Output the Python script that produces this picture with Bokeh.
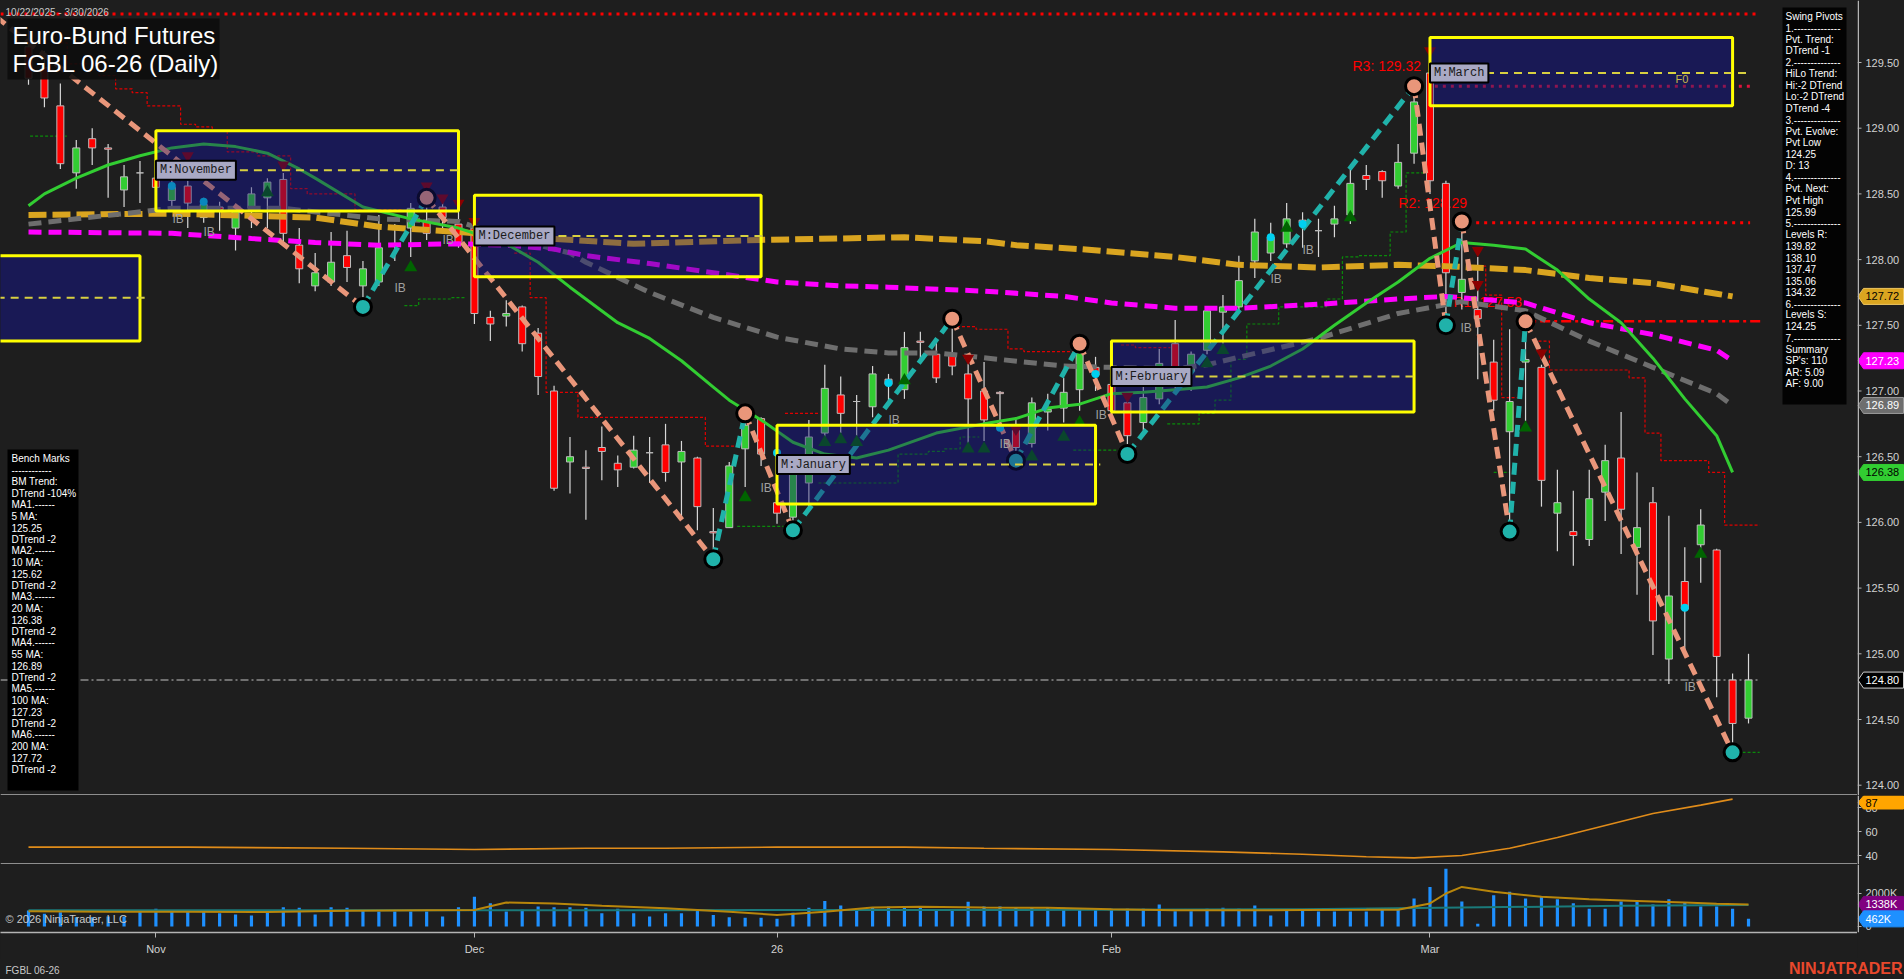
from bokeh.plotting import figure
from bokeh.models import Range1d, FixedTicker, Span
from bokeh.layouts import column, row
from bokeh.embed import file_html
from bokeh.resources import INLINE
from bokeh.core.properties import value

# ---------------------------------------------------------------- DATA
date_range_text = "10/22/2025 - 3/30/2026"
title_lines = ["Euro-Bund Futures", "FGBL 06-26 (Daily)"]
footer_left = "FGBL 06-26"
footer_right = "NINJATRADER"
month_tick_idx = [8, 28, 47, 68, 88]
month_tick_labels = ["Nov", "Dec", "26", "Feb", "Mar"]
price_ticks = [124.0, 124.5, 125.0, 125.5, 126.0, 126.5, 127.0, 127.5, 128.0, 128.5, 129.0, 129.5]
ind_ticks = [40, 60, 80]
vol_ticks = [0, 2000]
vol_tick_labels = ["0", "2000K"]

opens = [129.62,129.46,129.17,128.66,128.92,128.85,128.53,128.66,128.62,128.45,
         128.56,128.32,128.40,128.24,128.39,128.47,128.61,128.11,127.80,127.83,
         128.03,127.80,127.83,128.11,128.24,128.30,128.40,128.27,128.24,127.56,
         127.57,127.64,127.44,127.00,126.46,126.42,126.57,126.45,126.42,126.53,
         126.59,126.46,126.49,125.93,125.96,126.56,126.79,126.15,126.04,126.30,
         126.68,126.97,126.92,126.88,127.09,127.01,127.38,127.28,127.27,127.13,
         127.00,126.99,126.70,126.60,126.84,126.87,127.01,127.18,127.05,126.91,
         126.76,126.94,127.36,127.15,127.31,127.60,127.64,127.99,128.05,128.12,
         128.30,128.22,128.27,128.34,128.64,128.67,128.56,128.81,129.42,128.58,
         127.75,127.62,127.22,126.69,127.22,127.18,126.07,125.93,125.87,126.23,
         126.49,125.81,126.15,124.96,125.55,125.83,125.79,124.80,124.51]
highs = [129.75,129.59,129.34,128.91,129.00,128.88,128.72,128.75,128.70,128.62,
         128.60,128.47,128.44,128.41,128.55,128.62,128.66,128.24,128.05,128.21,
         128.22,127.99,128.34,128.27,128.43,128.47,128.45,128.40,128.33,127.61,
         127.69,127.65,127.48,127.04,126.65,126.55,126.73,126.51,126.66,126.65,
         126.75,126.62,126.50,126.11,126.46,126.83,126.80,126.22,126.42,126.78,
         127.20,127.11,126.97,127.19,127.13,127.45,127.45,127.38,127.55,127.21,
         127.22,127.00,126.80,126.95,126.98,127.10,127.36,127.26,127.12,126.95,
         127.08,127.32,127.54,127.30,127.62,127.73,128.03,128.31,128.28,128.43,
         128.36,128.31,128.41,128.69,128.72,128.68,128.88,129.32,129.45,128.60,
         128.29,128.02,127.39,127.47,127.53,127.20,126.40,126.24,126.40,126.59,
         126.84,126.38,126.27,126.05,125.81,126.10,125.80,124.85,125.00]
lows = [129.33,129.16,128.69,128.54,128.72,128.47,128.40,128.43,128.42,128.40,
        128.24,128.28,128.22,128.07,128.24,128.24,128.13,127.82,127.76,127.80,
        127.83,127.64,127.80,127.99,128.02,128.15,128.20,128.09,127.51,127.38,
        127.49,127.30,126.97,126.24,126.22,126.02,126.32,126.27,126.41,126.30,
        126.31,126.04,125.94,125.72,125.96,126.27,126.43,125.99,125.94,126.11,
        126.65,126.68,126.66,126.80,126.90,126.94,127.25,127.06,127.12,126.60,
        126.62,126.72,126.47,126.57,126.70,126.76,126.85,127.00,126.80,126.52,
        126.70,126.90,127.00,127.00,127.28,127.36,127.61,127.86,127.99,128.09,
        128.09,128.02,128.17,128.27,128.53,128.47,128.54,128.73,128.50,127.50,
        127.62,127.09,126.85,125.93,126.77,126.12,125.78,125.67,125.82,126.01,
        125.76,125.45,124.99,124.77,125.01,125.54,124.67,124.25,124.47]
closes = [129.38,129.23,128.73,128.85,128.85,128.84,128.63,128.66,128.55,128.55,
          128.43,128.42,128.38,128.37,128.50,128.59,128.20,127.93,127.90,127.98,
          127.94,127.93,128.09,128.10,128.39,128.20,128.32,128.12,127.59,127.51,
          127.59,127.36,127.11,126.26,126.50,126.41,126.54,126.40,126.55,126.53,
          126.38,126.54,126.12,125.92,126.43,126.74,126.52,126.07,126.40,126.65,
          127.02,126.83,126.92,127.13,127.05,127.33,127.37,127.10,127.19,126.94,
          126.78,126.98,126.57,126.91,126.86,126.99,127.29,127.12,126.85,126.66,
          126.95,127.21,127.18,127.28,127.61,127.64,127.84,128.21,128.17,128.31,
          128.28,128.22,128.31,128.58,128.61,128.60,128.74,129.20,128.60,127.90,
          127.85,127.55,126.93,126.92,127.24,126.32,126.15,125.90,126.18,126.47,
          126.10,125.96,125.25,125.44,125.34,125.98,124.98,124.47,124.80]
volume_k = [970,768,869,566,566,606,606,909,1070,909,
            909,909,808,727,667,970,1172,1131,727,1172,
            1131,970,909,909,909,909,606,1172,1800,1414,
            909,1010,1212,1172,1172,1131,808,1070,808,606,
            808,808,1010,700,566,525,525,465,828,1131,
            1550,1273,1070,1131,1212,1212,1172,970,1010,1500,
            1212,1212,1172,1172,1131,1131,1070,1070,1070,1070,
            1070,1333,929,929,1070,1131,1070,1273,667,1010,
            1010,909,909,909,909,1070,1070,1700,2400,3500,
            1515,162,1900,2100,1700,1800,1650,1414,1070,1070,
            1515,1600,1333,1650,1475,1212,1212,1070,462]

ma20_idx = [0,1,3,5,7,9,11,13,15,17,18,21,24,27,30,32,34,37,39,41,43,44,46,48,50,52,54,57,60,62,
            64,66,68,70,72,74,76,78,80,82,84,86,88,90,92,94,96,98,100,102,104,106,107]
ma20_vals = [128.41,128.50,128.62,128.72,128.79,128.85,128.88,128.86,128.81,128.69,128.62,128.40,128.31,
             128.24,128.12,127.98,127.79,127.52,127.40,127.23,127.03,126.93,126.78,126.61,126.52,126.49,
             126.55,126.68,126.75,126.79,126.87,126.90,126.98,126.99,127.01,127.03,127.10,127.19,127.32,
             127.50,127.67,127.83,128.01,128.13,128.11,128.08,127.92,127.70,127.52,127.25,126.94,126.66,126.38]
ma55_idx = [0,9,16,22,27,30,34,35,39,43,47,51,54,57,61,65,68,72,74,81,86,90,94,98,102,106,107]
ma55_vals = [128.27,128.39,128.39,128.31,128.29,128.17,128.05,127.98,127.75,127.56,127.41,127.32,127.29,
             127.29,127.24,127.19,127.18,127.17,127.20,127.40,127.59,127.68,127.61,127.38,127.18,126.98,126.89]
ma100_idx = [0,9,14,18,22,27,30,33,35,39,43,47,51,54,60,65,68,72,76,81,86,89,94,98,102,106,107]
ma100_vals = [128.21,128.20,128.16,128.13,128.11,128.12,128.11,128.08,128.03,127.97,127.90,127.83,127.80,
              127.79,127.76,127.72,127.67,127.63,127.63,127.66,127.70,127.72,127.67,127.52,127.43,127.31,127.23]
ma200_idx = [0,9,18,22,27,30,38,46,55,60,62,66,72,76,81,86,89,94,98,102,106,107]
ma200_vals = [128.34,128.35,128.32,128.25,128.21,128.18,128.12,128.15,128.17,128.14,128.11,128.08,128.02,
              127.96,127.94,127.96,127.95,127.92,127.86,127.82,127.74,127.72]

piv_idx = [-3, 21, 25, 43, 45, 48, 58, 62, 66, 69, 87, 89, 90, 93, 94, 107]
piv_price = [129.94, 127.64, 128.47, 125.72, 126.83, 125.94, 127.55, 126.47, 127.36, 126.52,
             129.32, 127.50, 128.29, 125.93, 127.53, 124.25]

box_names = ["", "M:November", "M:December", "M:January", "M:February", "M:March"]
box_first = [-2, 8, 28, 47, 68, 88]
box_last = [7, 27, 46, 67, 87, 107]
box_high = [128.03, 128.98, 128.49, 126.74, 127.38, 129.69]
box_low = [127.38, 128.37, 127.87, 126.14, 126.84, 129.17]
box_mid = [127.71, 128.68, 128.18, 126.44, 127.11, 129.42]

upper_level = 129.87
r3_level, r2_level, r1_level = 129.32, 128.29, 127.53
last_price = 124.80

red_steps = [(2.0, 2.43, 129.65), (2.43, 4.42, 129.49), (4.42, 5.47, 129.40), (5.47, 6.51, 129.30),
             (6.51, 7.45, 129.27), (7.45, 9.55, 129.17), (9.55, 10.49, 129.03), (10.49, 11.54, 129.01),
             (11.54, 12.48, 128.98), (12.48, 14.36, 128.82), (14.36, 16.46, 128.79), (16.46, 17.5, 128.54),
             (17.5, 20.5, 128.50), (20.5, 23.5, 128.38),
             (30.5, 31.5, 128.05), (31.5, 32.5, 127.71), (32.5, 34.5, 126.99), (34.5, 42.5, 126.80),
             (42.5, 44.7, 126.58), (47.5, 49.6, 126.83),
             (58.3, 59.5, 127.49), (59.5, 61.5, 127.47), (61.5, 62.5, 127.32), (62.5, 66.3, 127.30),
             (68.6, 69.5, 127.35), (69.5, 71.7, 127.33),
             (90.7, 91.5, 127.95), (91.5, 92.5, 127.73), (92.5, 93.5, 126.95),
             (94.5, 95.5, 127.38), (95.5, 100.5, 127.16), (100.5, 101.5, 127.10), (101.5, 102.5, 126.68),
             (102.5, 105.5, 126.47), (105.5, 106.5, 126.38), (106.5, 108.7, 125.98)]
green_steps = [(0.1, 2.4, 128.94),
               (23.6, 24.5, 127.65), (24.5, 26.5, 127.70), (26.5, 27.5, 127.71),
               (44.5, 47.4, 125.97),
               (49.6, 54.6, 126.30), (54.6, 56.5, 126.52), (56.5, 57.5, 126.54), (57.5, 58.5, 126.56),
               (58.5, 59.7, 126.65), (65.6, 68.5, 126.55),
               (71.5, 73.5, 126.75), (73.5, 74.5, 126.83), (74.5, 75.5, 126.93), (75.5, 76.5, 127.24),
               (76.5, 78.5, 127.51), (78.5, 81.5, 127.64), (81.5, 82.5, 127.70), (82.5, 83.5, 128.02),
               (83.5, 85.5, 128.03), (85.5, 86.5, 128.21), (86.5, 88.0, 128.66),
               (92.0, 93.0, 126.38), (107.0, 108.7, 124.25)]

up_tri_idx = [15, 24, 45, 50, 51, 52, 55, 59, 60, 63, 65, 66, 74, 75, 79, 83, 94, 105]
up_tri_px = [128.51, 127.94, 126.19, 126.61, 126.63, 126.61, 127.08, 126.56, 126.56, 126.50, 126.65,
             126.76, 127.21, 127.31, 128.24, 128.32, 126.72, 125.76]
dn_tri_idx = [10, 16, 25, 26, 27, 28, 59, 62, 69, 88, 91, 91, 95]
dn_tri_px = [128.79, 128.72, 128.56, 128.47, 128.43, 128.29, 127.25, 126.71, 126.96, 129.59, 128.07, 127.81, 127.29]
dot_idx = [9, 11, 47, 54, 61, 67, 78, 80, 104]
dot_px = [128.56, 128.44, 126.53, 127.06, 126.72, 127.13, 128.17, 128.27, 125.35]

ind_idx = [0, 10, 20, 28, 35, 40, 47, 55, 60, 68, 75, 80, 84, 87, 90, 93, 96, 99, 102, 105, 107]
ind_vals = [47, 47, 46, 45, 46, 46, 47, 47, 46, 45, 43, 41, 39, 38, 40, 46, 55, 65, 75, 82, 87]
vma_idx = [0,5,10,15,20,25,28,30,33,36,40,44,47,50,53,56,60,64,68,72,76,80,84,86,88,89,90,92,95,98,101,104,106,108]
vma_vals = [930,900,900,880,950,980,1000,1450,1400,1250,1100,900,700,900,1150,1200,1150,1130,1050,980,
            980,1000,1010,1020,1400,2000,2400,2100,1800,1650,1550,1450,1380,1338]
vma2_idx = [0, 20, 40, 60, 80, 90, 100, 108]
vma2_vals = [980, 980, 990, 1000, 1050, 1150, 1250, 1300]
vol_tag_ma = 1338

bench_ma_names = ["5 MA:", "10 MA:", "20 MA:", "55 MA:", "100 MA:", "200 MA:"]
bench_ma_vals = [125.25, 125.62, 126.38, 126.89, 127.23, 127.72]
swing_lines = ["Swing Pivots", "1.--------------", "Pvt. Trend:", "DTrend -1", "2.--------------",
               "HiLo Trend:", "Hi:-2 DTrend", "Lo:-2 DTrend", "DTrend -4", "3.--------------",
               "Pvt. Evolve:", "Pvt Low", "124.25", "D: 13", "4.--------------", "Pvt. Next:",
               "Pvt High", "125.99", "5.--------------", "Levels R:", "139.82", "138.10", "137.47",
               "135.06", "134.32", "6.--------------", "Levels S:", "124.25", "7.--------------",
               "Summary", "SP's: 110", "AR: 5.09", "AF: 9.00"]

# ---------------------------------------------------------------- LAYOUT (page pixels)
BG = "#1e1e1e"; AXC = "#b4b4b4"; LBC = "#d2d2d2"
SANS = "Liberation Sans"
TOTAL_W, TOTAL_H = 1904, 979
XPX = 15.926; FW = 1857; SW = TOTAL_W - FW
X0 = -28 / XPX; XEND = X0 + FW / XPX
PH = 795; YPX = 131.4; YTOP = 129.5 + 62 / YPX; YBOT = YTOP - PH / YPX
IH = 69; ITOP = 90.0; IPX = 1.2; IBOT = ITOP - IH / IPX
VH = 68; VTOP = 3757.0; VPX = 60.6; VBOT = VTOP - VH * VPX
XAX_H = 26
FOOT_H = TOTAL_H - PH - IH - VH - XAX_H


def rx(px):
    return X0 + px / XPX


def ry(py):
    return YTOP - py / YPX


def vy(py):
    return VTOP - (py - 864) * VPX


xr = Range1d(X0, XEND)


def plain_fig(fw, fh, x_range, y_range, mb=0, xaxis=False):
    f = figure(frame_width=fw, frame_height=fh, x_range=x_range, y_range=y_range,
               output_backend="svg", toolbar_location=None, tools="",
               y_axis_location=None, x_axis_location=("below" if xaxis else None),
               min_border_left=0, min_border_right=0, min_border_top=0, min_border_bottom=mb,
               background_fill_color=BG, border_fill_color=BG, outline_line_color=None)
    f.grid.visible = False
    return f


def txt(f, x, y, s, size, color, align="left", font=SANS, style="normal", baseline="middle"):
    f.text(x=[x], y=[y], text=[s], text_font=value(font), text_font_size=size, text_color=color,
           text_align=align, text_baseline=baseline, text_font_style=style)


def side_fig(fh, yr, mb=0):
    f = plain_fig(SW, fh, Range1d(0, SW), yr, mb)
    f.add_layout(Span(location=0.75, dimension="height", line_color=AXC, line_width=1.5))
    return f


def side_ticks(f, ticks, labels):
    n = len(ticks)
    f.segment(x0=[0] * n, y0=ticks, x1=[4] * n, y1=ticks, line_color=AXC, line_width=1)
    f.text(x=[8] * n, y=ticks, text=labels, text_font=value(SANS), text_font_size="11px",
           text_color=LBC, text_baseline="middle")


def side_tag(f, yv, s, bg, fg, upp, border=None, half=8):
    hh = half * upp
    f.patches(xs=[[0.5, 6, SW - 1, SW - 1, 6]], ys=[[yv, yv + hh, yv + hh, yv - hh, yv - hh]],
              fill_color=bg, line_color=(border or bg), line_width=1)
    f.text(x=[8], y=[yv], text=[s], text_font=value(SANS), text_font_size="11px",
           text_color=fg, text_baseline="middle")


def step_groups(steps):
    xs, ys = [], []
    cx, cy, prev = [], [], None
    for a, b, v in steps:
        if prev is not None and abs(a - prev) < 1e-6:
            cx += [a, b]; cy += [v, v]
        else:
            if cx:
                xs.append(cx); ys.append(cy)
            cx, cy = [a, b], [v, v]
        prev = b
    if cx:
        xs.append(cx); ys.append(cy)
    return xs, ys


# ---------------------------------------------------------------- PRICE PANEL
pyr = Range1d(YBOT, YTOP)
p = plain_fig(FW, PH, xr, pyr)
p.add_layout(Span(location=YBOT + 0.6 / YPX, dimension="width", line_color=AXC, line_width=1.5))

p.quad(left=box_first, right=box_last, top=box_high, bottom=box_low, fill_color="#191943", line_color=None)

p.segment(x0=[X0], y0=[upper_level], x1=[108.6], y1=[upper_level], line_color="#ff0000", line_width=3, line_dash="3 5")
p.segment(x0=[87.3], y0=[r3_level], x1=[108.1], y1=[r3_level], line_color="#dc143c", line_width=3, line_dash="3 5")
p.segment(x0=[90.9], y0=[r2_level - 0.01], x1=[108.1], y1=[r2_level - 0.01], line_color="#ff0000", line_width=3, line_dash="3 5")
p.segment(x0=[93.6], y0=[r1_level], x1=[108.8], y1=[r1_level], line_color="#ff0000", line_width=2.5, line_dash="10 4 3 4")
p.segment(x0=[X0], y0=[last_price], x1=[108.6], y1=[last_price], line_color="#8c8c8c", line_width=1.5, line_dash="8 3 2 3")
txt(p, rx(1352), ry(65), "R3: %.2f" % r3_level, "14px", "#ff0000")
txt(p, rx(1398), ry(202), "R2: %.2f" % r2_level, "14px", "#ff0000")
txt(p, rx(1453), ry(301), "R1: %.2f" % r1_level, "14px", "#ff0000")

rxs, rys = step_groups(red_steps)
p.multi_line(xs=rxs, ys=rys, line_color="#e00000", line_width=1.2, line_dash="3 2")
gxs, gys = step_groups(green_steps)
p.multi_line(xs=gxs, ys=gys, line_color="#0a8a0a", line_width=1.2, line_dash="3 2")

idx = list(range(len(opens)))
p.segment(x0=idx, y0=lows, x1=idx, y1=highs, line_color="#d8d8d8", line_width=1.2)
tops = [max(o, c) for o, c in zip(opens, closes)]
bots = [min(o, c) for o, c in zip(opens, closes)]
cols = ["#32cd32" if c >= o else "#ff0000" for o, c in zip(opens, closes)]
p.vbar(x=idx, width=0.44, top=tops, bottom=bots, fill_color=cols, line_color="#bdbdbd", line_width=1)

p.line(ma200_idx, ma200_vals, line_color="#daa520", line_width=6, line_dash="18 6")
p.line(ma55_idx, ma55_vals, line_color="#6e6e6e", line_width=5, line_dash="13 7")
p.line(ma100_idx, ma100_vals, line_color="#ff00ff", line_width=5, line_dash="13 7")
p.line(ma20_idx, ma20_vals, line_color="#32cd32", line_width=3)

sx0, sy0, sx1, sy1, scol = [], [], [], [], []
for k in range(len(piv_idx) - 1):
    sx0.append(piv_idx[k]); sy0.append(piv_price[k]); sx1.append(piv_idx[k + 1]); sy1.append(piv_price[k + 1])
    scol.append("#20b2aa" if piv_price[k + 1] > piv_price[k] else "#e9967a")
p.segment(x0=sx0, y0=sy0, x1=sx1, y1=sy1, line_color=scol, line_width=5, line_dash="12 7")

p.scatter(up_tri_idx, up_tri_px, marker="triangle", size=13, fill_color="#006400", line_color=None)
p.scatter(dn_tri_idx, dn_tri_px, marker="inverted_triangle", size=12, fill_color="#8b0000", line_color=None)
p.scatter(dot_idx, dot_px, marker="circle", size=8, fill_color="#00d0f0", line_color=None)
pc = ["#e9967a" if piv_price[k] > piv_price[k - 1] else "#20b2aa" for k in range(1, len(piv_idx))]
p.scatter(piv_idx[1:], piv_price[1:], marker="circle", size=17, fill_color=pc, line_color="black", line_width=3)

p.quad(left=box_first, right=box_last, top=box_high, bottom=box_low, fill_color="#191970", fill_alpha=0.4, line_color=None)
p.quad(left=box_first, right=box_last, top=box_high, bottom=box_low, fill_color=None, line_color="#ffff00", line_width=3)
p.segment(x0=box_first, y0=box_mid, x1=[b + 0.3 for b in box_last[:-1]] + [108.2], y1=box_mid,
          line_color="#d8d040", line_width=2, line_dash="8 6")
for name, left, mid in zip(box_names, box_first, box_mid):
    if not name:
        continue
    wpx = 7.2 * len(name) + 8
    p.quad(left=[left], right=[left + wpx / XPX], top=[mid + 9.5 / YPX], bottom=[mid - 9.5 / YPX],
           fill_color="#a9a9c4", line_color="black", line_width=2)
    txt(p, left + 4 / XPX, mid, name, "12px", "#1a1a1a", font="Liberation Mono")
txt(p, rx(1675), ry(78), "F0", "11px", "#c8b84a")

ib_pos = [(172, 218), (203, 231), (394, 287), (442, 239), (760, 487), (888, 419), (999, 443),
          (1095, 414), (1270, 278), (1302, 249), (1460, 327), (1684, 686)]
p.text(x=[rx(a) for a, b in ib_pos], y=[ry(b) for a, b in ib_pos], text=["IB"] * len(ib_pos),
       text_font=value(SANS), text_font_size="12px", text_color="#a0a0a0", text_baseline="middle")

p.quad(left=[rx(7)], right=[rx(219)], top=[ry(18)], bottom=[ry(79)], fill_color="#0c0c0c", fill_alpha=0.9, line_color=None)
txt(p, rx(12), ry(35), title_lines[0], "24px", "white")
txt(p, rx(12), ry(63), title_lines[1], "24px", "white")
txt(p, rx(5), ry(12), date_range_text, "10px", "#c8c8c8")

bench_lines = ["Bench Marks", "------------", "BM Trend:", "DTrend -104%"]
for k, (nm, v) in enumerate(zip(bench_ma_names, bench_ma_vals)):
    bench_lines += ["MA%d.------" % (k + 1), nm, "%.2f" % v, "DTrend -2"]
p.quad(left=[rx(7)], right=[rx(78)], top=[ry(449)], bottom=[ry(790)], fill_color="black", line_color=None)
p.text(x=[rx(11)] * len(bench_lines), y=[ry(458 + 11.5 * k) for k in range(len(bench_lines))],
       text=bench_lines, text_font=value(SANS), text_font_size="10px", text_color="white", text_baseline="middle")
p.quad(left=[rx(1782)], right=[rx(1846)], top=[ry(7)], bottom=[ry(404)], fill_color="black", fill_alpha=0.9, line_color=None)
p.text(x=[rx(1785)] * len(swing_lines), y=[ry(16 + 11.48 * k) for k in range(len(swing_lines))],
       text=swing_lines, text_font=value(SANS), text_font_size="10px", text_color="white", text_baseline="middle")

ps = side_fig(PH, pyr)
side_ticks(ps, price_ticks, ["%.2f" % t for t in price_ticks])
side_tag(ps, bench_ma_vals[5], "%.2f" % bench_ma_vals[5], "#daa520", "black", 1 / YPX, "#f0c860")
side_tag(ps, bench_ma_vals[4], "%.2f" % bench_ma_vals[4], "#ff00ff", "white", 1 / YPX)
side_tag(ps, bench_ma_vals[3], "%.2f" % bench_ma_vals[3], "#6e6e6e", "white", 1 / YPX, "#9a9a9a")
side_tag(ps, bench_ma_vals[2], "%.2f" % bench_ma_vals[2], "#32cd32", "black", 1 / YPX)
side_tag(ps, last_price, "%.2f" % last_price, "#000000", "white", 1 / YPX, "#d0d0d0")

# ---------------------------------------------------------------- INDICATOR PANEL
iyr = Range1d(IBOT, ITOP)
ind = plain_fig(FW, IH, xr, iyr)
ind.add_layout(Span(location=IBOT + 0.6 / IPX, dimension="width", line_color=AXC, line_width=1.5))
ind.line(ind_idx, ind_vals, line_color="#e08c1a", line_width=1.6)
inds = side_fig(IH, iyr)
side_ticks(inds, ind_ticks, [str(t) for t in ind_ticks])
ind_tag_y = min(ind_vals[-1], ITOP - 7.0 / IPX)
side_tag(inds, ind_tag_y, "%d" % ind_vals[-1], "#ffa500", "black", 1 / IPX, half=6.5)

# ---------------------------------------------------------------- VOLUME PANEL
vyr = Range1d(VBOT, VTOP)
vol = plain_fig(FW, VH, xr, vyr, mb=XAX_H, xaxis=True)
ax = vol.xaxis[0]
ax.ticker = FixedTicker(ticks=month_tick_idx)
ax.major_label_overrides = {t: l for t, l in zip(month_tick_idx, month_tick_labels)}
ax.axis_line_color = AXC
ax.axis_line_width = 1.5
ax.major_tick_line_color = AXC
ax.minor_tick_line_color = None
ax.major_tick_out = 5
ax.major_tick_in = 0
ax.major_label_standoff = 5
ax.major_label_text_color = LBC
ax.major_label_text_font = SANS
ax.major_label_text_font_size = "11px"
vol.vbar(x=idx, width=0.2, top=volume_k, bottom=0, fill_color="#1e90ff", line_color=None)
vol.line(vma2_idx, vma2_vals, line_color="#1a7a7a", line_width=2)
vol.line(vma_idx, vma_vals, line_color="#b8860b", line_width=2)
txt(vol, rx(5), vy(918), "\u00a9 2026 NinjaTrader, LLC", "11px", "#c8c8c8")
vols = side_fig(VH, vyr, mb=XAX_H)
side_ticks(vols, vol_ticks, vol_tick_labels)
side_tag(vols, vol_tag_ma, "%dK" % vol_tag_ma, "#800080", "white", VPX)
side_tag(vols, volume_k[-1], "%dK" % volume_k[-1], "#1e90ff", "white", VPX)

# ---------------------------------------------------------------- FOOTER
foot = plain_fig(TOTAL_W, FOOT_H, Range1d(0, TOTAL_W), Range1d(0, FOOT_H))
txt(foot, 5, TOTAL_H - 970, footer_left, "10px", "#c8c8c8")
txt(foot, TOTAL_W - 2, TOTAL_H - 968, footer_right, "16px", "#e8482c", align="right", style="bold")

layout = column(row(p, ps), row(ind, inds), row(vol, vols), foot)
html = file_html(layout, INLINE, title="FGBL 06-26 (Daily)")
html = html.replace("</head>", "<style>html,body{background-color:#1e1e1e;}</style></head>", 1)
open("out.html", "w").write(html)
